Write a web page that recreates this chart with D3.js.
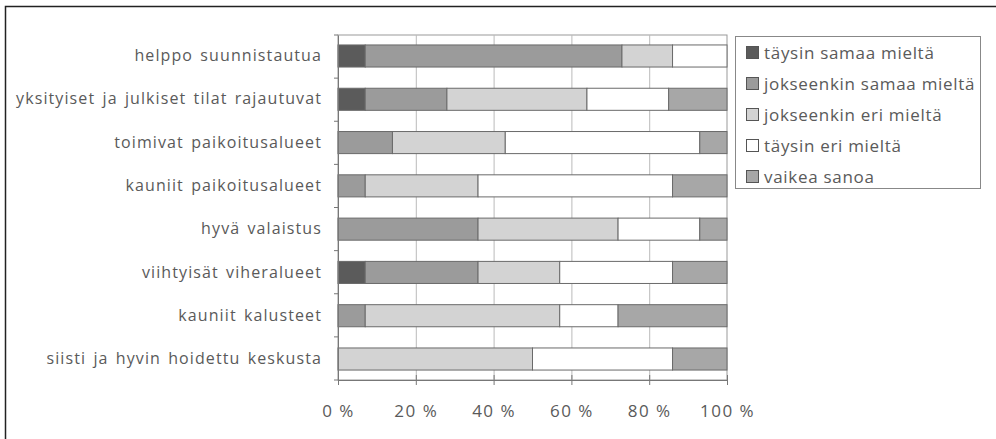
<!DOCTYPE html>
<html>
<head>
<meta charset="utf-8">
<script src="https://cdn.jsdelivr.net/npm/d3@7"></script>
<style>
  body { margin: 0; background: #fff; }
  text { font-family: "Open Sans", sans-serif; fill: #5a5a5a; }
</style>
</head>
<body>
<div class="chart"></div>
<script>
// chart size
var width = 996,
    height = 439;

// data (percent of answers)
var categories = ["helppo suunnistautua",
                  "yksityiset ja julkiset tilat rajautuvat",
                  "toimivat paikoitusalueet",
                  "kauniit paikoitusalueet",
                  "hyvä valaistus",
                  "viihtyisät viheralueet",
                  "kauniit kalusteet",
                  "siisti ja hyvin hoidettu keskusta"];
var seriesNames = ["täysin samaa mieltä", "jokseenkin samaa mieltä",
                   "jokseenkin eri mieltä", "täysin eri mieltä", "vaikea sanoa"];
var taysinSamaa     = [7, 7, 0, 0, 0, 7, 0, 0];
var jokseenkinSamaa = [66, 21, 14, 7, 36, 29, 7, 0];
var jokseenkinEri   = [13, 36, 29, 29, 36, 21, 50, 50];
var taysinEri       = [14, 21, 50, 50, 21, 29, 15, 36];
var vaikeaSanoa     = [0, 15, 7, 14, 7, 14, 28, 14];
var tickValues = [0, 20, 40, 60, 80, 100];

var colors = ["#5b5b5b", "#9b9b9b", "#d3d3d3", "#ffffff", "#a7a7a7"];

// build rows for the stack
var rows = categories.map(function(c, i){
  return {cat: c, s0: taysinSamaa[i], s1: jokseenkinSamaa[i], s2: jokseenkinEri[i],
          s3: taysinEri[i], s4: vaikeaSanoa[i]};
});
var stack = d3.stack().keys(["s0","s1","s2","s3","s4"])(rows);

var svg = d3.select(".chart").append("svg")
    .attr("width", width)
    .attr("height", height);

// outer frame (top + left)
svg.append("path")
  .attr("d", "M5.5,439V6.5H996")
  .attr("fill", "none")
  .attr("stroke", "#222")
  .attr("stroke-width", 1.5);

var x = d3.scaleLinear().domain([0, 100]).range([338, 727]);
var y = d3.scaleBand().domain(categories).range([35, 380])
    .paddingInner(0.49).paddingOuter(0.23);

// plot area border + gridlines
svg.append("rect")
  .attr("x", x(0)).attr("y", 35)
  .attr("width", x(100) - x(0)).attr("height", 345)
  .attr("fill", "#fff").attr("stroke", "#999");

svg.selectAll(".grid")
  .data(tickValues.slice(1, -1))
  .enter().append("line")
  .attr("x1", function(d){ return x(d) + 0.5; })
  .attr("x2", function(d){ return x(d) + 0.5; })
  .attr("y1", 35).attr("y2", 380)
  .attr("stroke", "#bbb");

// bars
var layer = svg.selectAll(".layer")
  .data(stack).enter()
  .append("g")
  .attr("fill", function(d, i){ return colors[i]; });

layer.selectAll("rect")
  .data(function(d){ return d.filter(function(p){ return p[1] > p[0]; }); })
  .enter().append("rect")
  .attr("x", function(d){ return x(d[0]); })
  .attr("width", function(d){ return x(d[1]) - x(d[0]); })
  .attr("y", function(d){ return y(d.data.cat); })
  .attr("height", y.bandwidth())
  .attr("stroke", "#6a6a6a")
  .attr("stroke-width", 1);

// x axis
var xAxis = svg.append("g")
  .attr("transform", "translate(0,380)")
  .call(d3.axisBottom(x).tickValues(tickValues).tickSize(5)
        .tickFormat(function(d){ return d + " %"; }));
xAxis.select(".domain").attr("stroke", "#777");
xAxis.selectAll(".tick line").attr("stroke", "#777").attr("y1", -5);
xAxis.selectAll(".tick text")
  .attr("y", 25)
  .style("font-size", "17px")
  .style("letter-spacing", "1.5px")
  .style("font-family", "'Open Sans', sans-serif")
  .attr("fill", "#666");

// y axis
var yAxis = svg.append("g")
  .attr("transform", "translate(338,0)")
  .call(d3.axisLeft(y).tickSize(0).tickPadding(16));
yAxis.select(".domain").attr("stroke", "#777");
yAxis.selectAll(".tick text")
  .style("font-size", "16px")
  .style("letter-spacing", "1.1px")
  .style("word-spacing", "2px")
  .style("font-family", "'Open Sans', sans-serif")
  .attr("fill", "#5a5a5a");

// small ticks on the left between categories
svg.selectAll(".ytick")
  .data(categories.concat(["end"]))
  .enter().append("line")
  .attr("x1", 334).attr("x2", 338)
  .attr("y1", function(d, i){ return 35 + i * 345 / 8; })
  .attr("y2", function(d, i){ return 35 + i * 345 / 8; })
  .attr("stroke", "#777");

// legend
var legendBox = svg.append("rect")
  .attr("x", 735.5).attr("y", 36.5)
  .attr("width", 245).attr("height", 152)
  .attr("fill", "#fff").attr("stroke", "#888");

var legend = svg.selectAll(".legend")
  .data(seriesNames).enter()
  .append("g")
  .attr("transform", function(d, i){
    return "translate(746," + (53 + i * 31) + ")";
  });
legend.append("rect")
  .attr("x", 0.5).attr("y", -6.5)
  .attr("width", 12).attr("height", 12)
  .attr("fill", function(d, i){ return colors[i]; })
  .attr("stroke", "#555");
legend.append("text")
  .attr("x", 18).attr("dy", "0.35em")
  .style("font-size", "17px")
  .style("letter-spacing", "0.7px")
  .text(function(d){ return d; });
</script>
</body>
</html>
